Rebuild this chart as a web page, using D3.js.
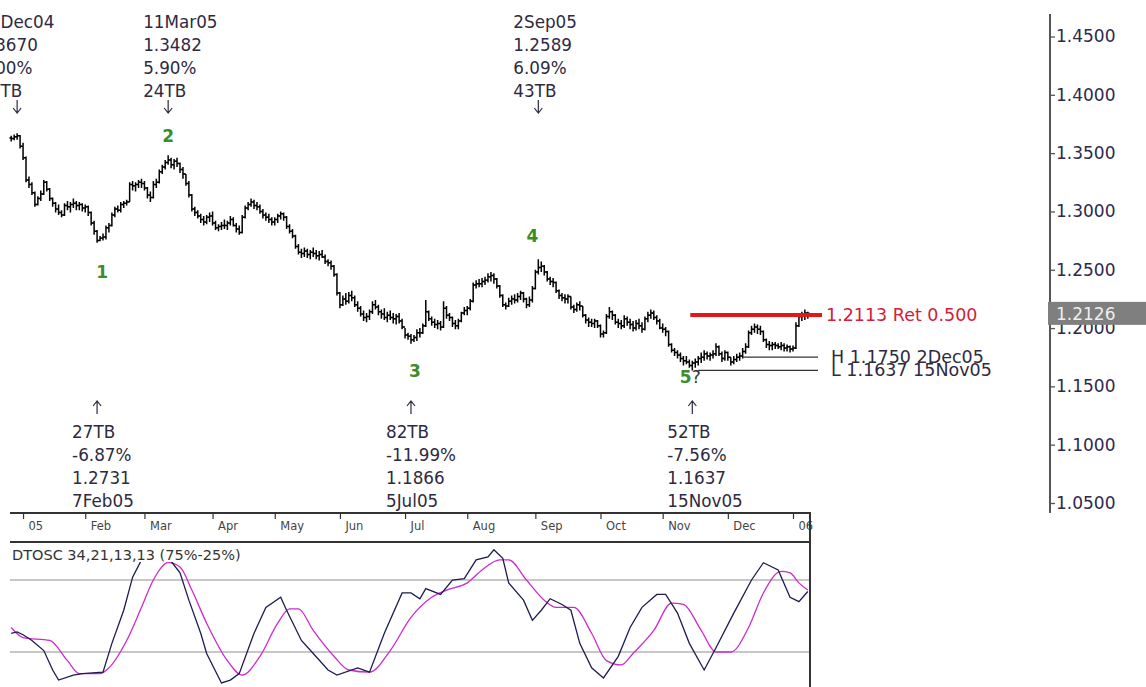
<!DOCTYPE html>
<html>
<head>
<meta charset="utf-8">
<script src="https://cdnjs.cloudflare.com/ajax/libs/d3/7.8.5/d3.min.js"></script>
<style>
  html, body { margin: 0; padding: 0; background: #fff; }
  svg { display: block; font-family: "DejaVu Sans", Verdana, sans-serif; }
</style>
</head>
<body>
<div id="box"></div>
<script>
// EUR/USD daily bars, 28 Dec 2004 .. 9 Jan 2006 (weekdays)
// open of each bar = previous close
var firstOpen = 1.3630;
var highs = [
  1.3650,1.3660,1.3670,1.3655,
  1.3590,1.3470,1.3300,1.3250,1.3170,1.3130,1.3180,1.3270,1.3260,1.3200,1.3120,1.3080,1.3060,1.3010,1.3070,1.3090,1.3080,1.3110,1.3090,1.3080,1.3070,
  1.3060,1.3050,1.3000,1.2920,1.2840,1.2790,1.2810,1.2880,1.2900,1.2990,1.3040,1.3050,1.3080,1.3090,1.3100,1.3250,1.3260,1.3250,1.3270,1.3280,
  1.3260,1.3210,1.3170,1.3260,1.3280,1.3360,1.3400,1.3440,1.3482,1.3460,1.3450,1.3460,1.3420,1.3380,1.3320,1.3260,1.3150,1.3040,1.3010,1.2980,1.2960,1.2970,1.2990,
  1.3000,1.2920,1.2890,1.2910,1.2930,1.2920,1.2960,1.2950,1.2900,1.2880,1.2970,1.3050,1.3080,1.3110,1.3100,1.3080,1.3060,1.3020,1.2990,1.2980,1.2950,
  1.2950,1.2980,1.3000,1.2990,1.2960,1.2890,1.2850,1.2800,1.2720,1.2680,1.2690,1.2680,1.2670,1.2690,1.2670,1.2660,1.2670,1.2630,1.2590,1.2580,1.2540,1.2470,
  1.2310,1.2280,1.2300,1.2310,1.2320,1.2280,1.2230,1.2190,1.2150,1.2130,1.2160,1.2230,1.2240,1.2200,1.2160,1.2170,1.2140,1.2150,1.2130,1.2120,1.2130,1.2080,
  1.2000,1.1960,1.1950,1.1940,1.1990,1.2000,1.2040,1.2240,1.2150,1.2100,1.2080,1.2070,1.2060,1.2230,1.2190,1.2130,1.2100,1.2070,1.2080,1.2140,1.2180,
  1.2190,1.2250,1.2390,1.2410,1.2420,1.2430,1.2440,1.2470,1.2480,1.2470,1.2430,1.2370,1.2290,1.2220,1.2260,1.2280,1.2290,1.2300,1.2320,1.2310,1.2260,1.2270,1.2360,
  1.2500,1.2589,1.2570,1.2540,1.2490,1.2440,1.2430,1.2400,1.2330,1.2300,1.2290,1.2290,1.2270,1.2200,1.2220,1.2230,1.2190,1.2120,1.2090,1.2080,1.2080,1.2070,
  1.2030,1.1980,1.2120,1.2180,1.2150,1.2120,1.2080,1.2070,1.2110,1.2100,1.2080,1.2060,1.2070,1.2080,1.2050,1.2100,1.2140,1.2160,1.2150,1.2110,1.2080,
  1.2040,1.2010,1.1980,1.1870,1.1830,1.1810,1.1790,1.1760,1.1760,1.1730,1.1720,1.1740,1.1760,1.1790,1.1810,1.1800,1.1790,1.1810,1.1870,1.1850,1.1800,1.1810,
  1.1800,1.1750,1.1760,1.1780,1.1790,1.1830,1.1870,1.1980,1.2020,1.2040,1.2030,1.2020,1.1980,1.1910,1.1890,1.1880,1.1880,1.1870,1.1880,1.1870,1.1860,1.1850,
  1.1850,1.2050,1.2120,1.2140,1.2160,1.2140
];
var lows = [
  1.3600,1.3610,1.3615,1.3540,
  1.3440,1.3250,1.3200,1.3140,1.3040,1.3050,1.3090,1.3140,1.3170,1.3090,1.3040,1.2990,1.2970,1.2950,1.2960,1.3010,1.2990,1.3030,1.3010,1.3010,1.3000,
  1.2990,1.2960,1.2880,1.2800,1.2731,1.2745,1.2750,1.2760,1.2820,1.2870,1.2950,1.2990,1.2990,1.3030,1.3050,1.3080,1.3180,1.3170,1.3200,1.3200,
  1.3180,1.3110,1.3080,1.3110,1.3200,1.3240,1.3320,1.3360,1.3400,1.3370,1.3360,1.3380,1.3330,1.3280,1.3220,1.3120,1.3000,1.2960,1.2940,1.2900,1.2880,1.2890,1.2910,
  1.2880,1.2840,1.2830,1.2840,1.2850,1.2840,1.2880,1.2870,1.2820,1.2800,1.2810,1.2940,1.3010,1.3040,1.3020,1.3010,1.2980,1.2940,1.2920,1.2900,1.2880,
  1.2880,1.2900,1.2930,1.2920,1.2850,1.2810,1.2770,1.2680,1.2630,1.2600,1.2610,1.2600,1.2590,1.2610,1.2590,1.2580,1.2600,1.2550,1.2530,1.2500,1.2440,1.2280,
  1.2170,1.2190,1.2200,1.2210,1.2230,1.2180,1.2140,1.2100,1.2060,1.2050,1.2070,1.2120,1.2160,1.2110,1.2080,1.2070,1.2050,1.2070,1.2040,1.2030,1.2040,1.1990,
  1.1910,1.1900,1.1866,1.1880,1.1890,1.1920,1.1950,1.2010,1.2060,1.2020,1.2000,1.1990,1.1980,1.2000,1.2080,1.2060,1.2010,1.1990,1.1990,1.2050,1.2110,
  1.2110,1.2150,1.2220,1.2340,1.2350,1.2350,1.2370,1.2390,1.2400,1.2380,1.2340,1.2260,1.2180,1.2160,1.2180,1.2200,1.2210,1.2220,1.2240,1.2220,1.2170,1.2180,1.2220,
  1.2330,1.2460,1.2480,1.2450,1.2400,1.2370,1.2350,1.2300,1.2250,1.2230,1.2210,1.2210,1.2160,1.2130,1.2140,1.2150,1.2090,1.2040,1.2010,1.2010,1.2000,1.2000,
  1.1920,1.1920,1.1950,1.2080,1.2070,1.2030,1.2000,1.1990,1.2000,1.2020,1.1990,1.1970,1.1980,1.1990,1.1960,1.1980,1.2050,1.2080,1.2070,1.2030,1.1990,
  1.1960,1.1930,1.1840,1.1790,1.1760,1.1740,1.1710,1.1680,1.1690,1.1660,1.1637,1.1660,1.1680,1.1700,1.1720,1.1730,1.1720,1.1740,1.1760,1.1760,1.1710,1.1720,
  1.1720,1.1680,1.1690,1.1710,1.1720,1.1740,1.1780,1.1830,1.1940,1.1960,1.1950,1.1940,1.1880,1.1830,1.1810,1.1810,1.1820,1.1820,1.1810,1.1800,1.1800,1.1790,
  1.1800,1.1820,1.2010,1.2060,1.2070,1.2080
];
var closes = [
  1.3625,1.3640,1.3650,1.3560,
  1.3460,1.3270,1.3230,1.3160,1.3060,1.3110,1.3150,1.3250,1.3190,1.3110,1.3070,1.3020,1.2990,1.2970,1.3050,1.3040,1.3060,1.3070,1.3050,1.3060,1.3030,
  1.3040,1.2990,1.2900,1.2830,1.2750,1.2770,1.2780,1.2860,1.2880,1.2970,1.3020,1.3010,1.3060,1.3070,1.3080,1.3230,1.3220,1.3230,1.3250,1.3240,
  1.3200,1.3140,1.3120,1.3230,1.3250,1.3340,1.3380,1.3420,1.3440,1.3400,1.3430,1.3410,1.3360,1.3320,1.3240,1.3140,1.3020,1.2990,1.2960,1.2930,1.2910,1.2950,1.2960,
  1.2900,1.2860,1.2870,1.2880,1.2880,1.2900,1.2930,1.2880,1.2850,1.2820,1.2950,1.3030,1.3060,1.3080,1.3050,1.3040,1.3000,1.2970,1.2950,1.2930,1.2910,
  1.2930,1.2960,1.2980,1.2950,1.2870,1.2830,1.2790,1.2700,1.2650,1.2640,1.2660,1.2630,1.2650,1.2640,1.2620,1.2630,1.2610,1.2570,1.2560,1.2530,1.2460,1.2300,
  1.2200,1.2250,1.2230,1.2280,1.2260,1.2200,1.2170,1.2120,1.2090,1.2100,1.2140,1.2200,1.2180,1.2140,1.2120,1.2090,1.2110,1.2090,1.2080,1.2100,1.2060,1.2010,
  1.1940,1.1930,1.1900,1.1920,1.1960,1.1960,1.2020,1.2140,1.2080,1.2050,1.2030,1.2040,1.2010,1.2170,1.2110,1.2090,1.2040,1.2020,1.2060,1.2130,1.2150,
  1.2170,1.2230,1.2370,1.2380,1.2380,1.2400,1.2410,1.2440,1.2450,1.2420,1.2360,1.2280,1.2200,1.2190,1.2230,1.2250,1.2240,1.2270,1.2300,1.2250,1.2200,1.2240,1.2340,
  1.2480,1.2520,1.2530,1.2480,1.2420,1.2400,1.2390,1.2320,1.2280,1.2260,1.2250,1.2270,1.2180,1.2160,1.2200,1.2190,1.2110,1.2070,1.2050,1.2040,1.2060,1.2020,
  1.1950,1.1960,1.2100,1.2140,1.2110,1.2050,1.2040,1.2020,1.2080,1.2050,1.2030,1.2000,1.2040,1.2020,1.1990,1.2080,1.2110,1.2130,1.2090,1.2060,1.2000,
  1.1990,1.1970,1.1860,1.1810,1.1790,1.1770,1.1740,1.1720,1.1710,1.1680,1.1700,1.1710,1.1740,1.1750,1.1780,1.1760,1.1770,1.1780,1.1840,1.1780,1.1740,1.1790,
  1.1750,1.1710,1.1730,1.1750,1.1760,1.1800,1.1840,1.1960,1.1990,1.2010,1.1990,1.1970,1.1900,1.1860,1.1850,1.1860,1.1850,1.1840,1.1850,1.1830,1.1840,1.1820,
  1.1830,1.2020,1.2100,1.2110,1.2130,1.2126
];
var lastPrice = 1.2126;

var priceTicks = [1.05, 1.10, 1.15, 1.20, 1.25, 1.30, 1.35, 1.40, 1.45];
var monthLabels = ["05", "Feb", "Mar", "Apr", "May", "Jun", "Jul", "Aug", "Sep", "Oct", "Nov", "Dec", "06"];

// pivots (bar index) with their info lines
var pivotBars = [2, 29, 53, 135, 178, 230];
var pivotKind = ["top", "bottom", "top", "bottom", "top", "bottom"];
var pivotDates = ["30Dec04", "7Feb05", "11Mar05", "5Jul05", "2Sep05", "15Nov05"];
var pivotPrices = ["1.3670", "1.2731", "1.3482", "1.1866", "1.2589", "1.1637"];
var pivotPct = ["7.00%", "-6.87%", "5.90%", "-11.99%", "6.09%", "-7.56%"];
var pivotTB = ["31TB", "27TB", "24TB", "82TB", "43TB", "52TB"];

// wave count
var waveBars = [29, 53, 135, 178, 230];
var waveNames = ["1", "2", "3", "4", "5"];

// retracement and H/L lines
var retLevel = 1.2113, retLabel = "1.2113 Ret 0.500", retFrom = 230;
var hlLevels = [1.1750, 1.1637];
var hlLabels = ["H 1.1750 2Dec05", "L 1.1637 15Nov05"];
var hlFrom = [247, 232];

// DTOSC oscillator (fast / slow), sampled at bar indices
var fastBars = [0,2,4,7,11,14,16,21,24,31,34,38,41,44,47,50,54,57,60,64,66,71,74,77,82,86,91,93,98,102,107,110,117,121,126,132,135,138,140,145,149,153,157,161,163,166,168,173,176,179,182,186,189,192,196,200,205,209,213,218,221,225,229,234,238,244,250,254,259,263,266,269];
var fastVals = [38,39,37,33,26,12.5,5.5,9,10,11,31,54,77,89,95,96,88,80,61,38,24,3.5,5.5,10,38,56,63,54,33,24,12.5,9,14,11,38,66,66,62,69,65,75,76,89,91,96,90,73,61,47,54,62,58,54,31,14,7,22,42,56,65,65,52,31,12.5,28,52,75,87,82,63,60,67];
var slowBars = [0,4,13,19,23,30,33,39,44,48,53,57,61,66,73,78,84,90,94,97,102,109,114,121,128,135,142,147,154,159,165,168,174,180,184,190,196,201,206,210,217,223,227,233,238,243,249,254,260,263,266,269];
var slowVals = [42,35,33,19,10,10,14,33,56,75,87,84,68,45,19,9,22,45,55,55,40,22,12.5,11,26,49,63,68,73,82,89,89,75,61,56,56,38,19,16,24,40,59,58,40,25,25,42,66,81,80,73,68];
var oscLevels = [25, 75];
var oscTitle = "DTOSC 34,21,13,13 (75%-25%)";

// ---------------------------------------------------------------
var W = 1146, H = 687;
var textColor = "#2e2a40";
var green = "#3b8d2c";

var svg = d3.select("#box").append("svg")
    .attr("width", W)
    .attr("height", H);

// weekday calendar for the bars
var dates = [];
var day = new Date(2004, 11, 28);
while (dates.length < closes.length) {
    if (day.getDay() !== 0 && day.getDay() !== 6) dates.push(day);
    day = d3.timeDay.offset(day, 1);
}
var bars = closes.map(function(c, i) {
    return { date: dates[i], open: i ? closes[i - 1] : firstOpen, high: highs[i], low: lows[i], close: c };
});

var x = d3.scaleLinear().domain([0, bars.length - 1]).range([11.2, 807.8]);
var y = d3.scaleLinear().domain([1.05, 1.45]).range([503, 36.5]);
var y2 = d3.scaleLinear().domain([0, 100]).range([688, 544]);

// ---- price bars
svg.append("g").selectAll("path")
    .data(bars)
    .enter()
    .append("path")
    .attr("d", function(d, i) {
        var cx = x(i);
        return "M" + cx + "," + y(d.high) + "V" + y(d.low) +
            "M" + (cx - 1.8) + "," + y(d.open) + "H" + cx +
            "M" + cx + "," + y(d.close) + "H" + (cx + 1.8);
    })
    .attr("fill", "none")
    .attr("stroke", "#000")
    .attr("stroke-width", 1.5);

// ---- right price axis
var axisG = svg.append("g")
    .attr("transform", "translate(1050,0)")
    .call(d3.axisRight(y).tickValues(priceTicks).tickFormat(d3.format(".4f")).tickSize(5).tickPadding(1));
axisG.select(".domain").remove();
axisG.selectAll("line").attr("stroke", "#555").attr("stroke-width", 1.3);
axisG.selectAll("text")
    .attr("font-size", 17)
    .attr("font-family", "DejaVu Sans")
    .attr("fill", "#2e2850");
svg.append("line")
    .attr("x1", 1050).attr("x2", 1050)
    .attr("y1", 14).attr("y2", 513)
    .attr("stroke", "#555").attr("stroke-width", 2);

// current price box
svg.append("rect")
    .attr("x", 1048).attr("y", y(lastPrice) - 11.5)
    .attr("width", 98).attr("height", 23)
    .attr("fill", "#7f7f7f");
svg.append("text")
    .attr("x", 1056).attr("y", y(lastPrice) + 6.5)
    .attr("font-size", 17)
    .attr("fill", "#eeeeee")
    .text(d3.format(".4f")(lastPrice));

// ---- time axis
var monthStarts = [];
bars.forEach(function(d, i) {
    if (i > 0 && d.date.getMonth() !== bars[i - 1].date.getMonth()) monthStarts.push(i);
});
var timeG = svg.append("g")
    .attr("transform", "translate(0,513)")
    .call(d3.axisBottom(x).tickValues(monthStarts).tickFormat(function(d, i) { return monthLabels[i]; }).tickSize(6).tickPadding(3));
timeG.select(".domain").remove();
timeG.selectAll("line").attr("stroke", "#333").attr("stroke-width", 1.2);
timeG.selectAll("text")
    .attr("text-anchor", "start")
    .attr("x", 5)
    .attr("font-size", 11.5)
    .attr("font-family", "DejaVu Sans")
    .attr("fill", "#444");

svg.append("line").attr("x1", 10).attr("x2", 811).attr("y1", 513).attr("y2", 513)
    .attr("stroke", "#333").attr("stroke-width", 2);
svg.append("line").attr("x1", 10).attr("x2", 811).attr("y1", 542).attr("y2", 542)
    .attr("stroke", "#333").attr("stroke-width", 2);
svg.append("line").attr("x1", 810).attr("x2", 810).attr("y1", 513).attr("y2", 687)
    .attr("stroke", "#333").attr("stroke-width", 2);

// ---- oscillator panel
svg.selectAll(".lvl")
    .data(oscLevels)
    .enter()
    .append("line")
    .attr("class", "lvl")
    .attr("x1", 10).attr("x2", 809)
    .attr("y1", function(d) { return y2(d); })
    .attr("y2", function(d) { return y2(d); })
    .attr("stroke", "#b4b4b4")
    .attr("stroke-width", 1.5);

var oscLine = d3.line()
    .x(function(d) { return x(d[0]); })
    .y(function(d) { return y2(d[1]); })
    .curve(d3.curveMonotoneX);

svg.append("path")
    .datum(slowBars.map(function(b, i) { return [b, slowVals[i]]; }))
    .attr("d", oscLine)
    .attr("fill", "none")
    .attr("stroke", "#cc2ccc")
    .attr("stroke-width", 1.3);

svg.append("path")
    .datum(fastBars.map(function(b, i) { return [b, fastVals[i]]; }))
    .attr("d", oscLine.curve(d3.curveLinear))
    .attr("fill", "none")
    .attr("stroke", "#1c1c50")
    .attr("stroke-width", 1.3);

svg.append("rect")
    .attr("x", 10).attr("y", 545)
    .attr("width", 254).attr("height", 17)
    .attr("fill", "#fff");
svg.append("text")
    .attr("x", 12).attr("y", 560)
    .attr("font-size", 14.5)
    .attr("fill", "#333")
    .text(oscTitle);

// ---- pivot annotations
var topBase = [28, 51, 74, 97];
var botBase = [438, 461, 484, 507];
var blockDx = [-38, -25, -25, -25, -25, -25];

pivotBars.forEach(function(b, k) {
    var bx = x(b);
    var lines, base;
    if (pivotKind[k] === "top") {
        lines = [pivotDates[k], pivotPrices[k], pivotPct[k], pivotTB[k]];
        base = topBase;
        svg.append("path")
            .attr("d", "M" + bx + ",100V113M" + (bx - 4) + ",108L" + bx + ",113L" + (bx + 4) + ",108")
            .attr("fill", "none").attr("stroke", textColor).attr("stroke-width", 1.2);
    } else {
        lines = [pivotTB[k], pivotPct[k], pivotPrices[k], pivotDates[k]];
        base = botBase;
        svg.append("path")
            .attr("d", "M" + bx + ",414V401M" + (bx - 4) + ",406L" + bx + ",401L" + (bx + 4) + ",406")
            .attr("fill", "none").attr("stroke", textColor).attr("stroke-width", 1.2);
    }
    lines.forEach(function(t, j) {
        svg.append("text")
            .attr("x", bx + blockDx[k])
            .attr("y", base[j])
            .attr("font-size", 16.8)
            .attr("fill", textColor)
            .text(t);
    });
});

// ---- wave labels
var waveDx = [5, 0, 4, -6, -2];
var waveDy = [35, -13, 33, -17, 13];
waveBars.forEach(function(b, k) {
    var isTop = (k % 2 === 1);
    var py = isTop ? y(highs[b]) : y(lows[b]);
    var t = svg.append("text")
        .attr("x", x(b) + waveDx[k])
        .attr("y", py + waveDy[k])
        .attr("text-anchor", "middle")
        .attr("font-size", 17)
        .attr("font-weight", "bold")
        .attr("fill", green);
    t.append("tspan").text(waveNames[k]);
    if (k === waveBars.length - 1) t.append("tspan").attr("fill", "#333").attr("font-weight", "normal").text("?");
});

// ---- retracement line
svg.append("line")
    .attr("x1", x(retFrom) - 2).attr("x2", 822)
    .attr("y1", y(retLevel)).attr("y2", y(retLevel))
    .attr("stroke", "#e3161b")
    .attr("stroke-width", 4);
svg.append("text")
    .attr("x", 826).attr("y", y(retLevel) + 6.5)
    .attr("font-size", 17.5)
    .attr("fill", "#d3203a")
    .text(retLabel);

// ---- H / L lines
hlLevels.forEach(function(v, k) {
    svg.append("line")
        .attr("x1", x(hlFrom[k])).attr("x2", 818)
        .attr("y1", y(v)).attr("y2", y(v))
        .attr("stroke", "#333")
        .attr("stroke-width", 1.3);
    svg.append("text")
        .attr("x", 831).attr("y", y(v) + 6)
        .attr("font-size", 17.5)
        .attr("fill", textColor)
        .text(hlLabels[k]);
});
</script>
</body>
</html>
